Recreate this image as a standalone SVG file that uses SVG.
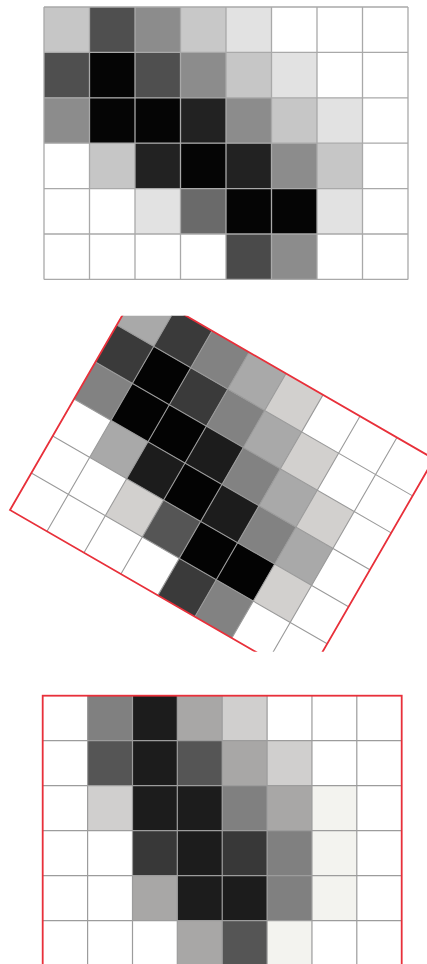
<svg xmlns="http://www.w3.org/2000/svg" width="427" height="964" viewBox="0 0 427 964">
<defs>
<style>
.g1{stroke:#a9a9a9;stroke-width:1.3;fill:none}
.g2{stroke:#9a9a9a;stroke-width:1.1;fill:none}
.g3{stroke:#9c9c9c;stroke-width:1.2;fill:none}
.red{stroke:#e8303a;stroke-width:1.8;fill:none}
</style>
<clipPath id="midClip"><rect x="0" y="315.7" width="427" height="336"/></clipPath>
</defs>
<rect width="427" height="964" fill="#ffffff"/>

<g id="top-grid">
<g stroke="none">
<rect x="44" y="7" width="45.5" height="45.4" fill="#c6c6c6"/>
<rect x="89.5" y="7" width="45.5" height="45.4" fill="#4f4f4f"/>
<rect x="135" y="7" width="45.5" height="45.4" fill="#8c8c8c"/>
<rect x="180.5" y="7" width="45.5" height="45.4" fill="#c8c8c8"/>
<rect x="226" y="7" width="45.5" height="45.4" fill="#e2e2e2"/>

<rect x="44" y="52.4" width="45.5" height="45.4" fill="#4f4f4f"/>
<rect x="89.5" y="52.4" width="45.5" height="45.4" fill="#050505"/>
<rect x="135" y="52.4" width="45.5" height="45.4" fill="#4f4f4f"/>
<rect x="180.5" y="52.4" width="45.5" height="45.4" fill="#8c8c8c"/>
<rect x="226" y="52.4" width="45.5" height="45.4" fill="#c6c6c6"/>
<rect x="271.5" y="52.4" width="45.5" height="45.4" fill="#e2e2e2"/>

<rect x="44" y="97.8" width="45.5" height="45.4" fill="#8c8c8c"/>
<rect x="89.5" y="97.8" width="45.5" height="45.4" fill="#050505"/>
<rect x="135" y="97.8" width="45.5" height="45.4" fill="#050505"/>
<rect x="180.5" y="97.8" width="45.5" height="45.4" fill="#222222"/>
<rect x="226" y="97.8" width="45.5" height="45.4" fill="#8c8c8c"/>
<rect x="271.5" y="97.8" width="45.5" height="45.4" fill="#c6c6c6"/>
<rect x="317" y="97.8" width="45.5" height="45.4" fill="#e2e2e2"/>

<rect x="89.5" y="143.2" width="45.5" height="45.4" fill="#c6c6c6"/>
<rect x="135" y="143.2" width="45.5" height="45.4" fill="#222222"/>
<rect x="180.5" y="143.2" width="45.5" height="45.4" fill="#050505"/>
<rect x="226" y="143.2" width="45.5" height="45.4" fill="#222222"/>
<rect x="271.5" y="143.2" width="45.5" height="45.4" fill="#8c8c8c"/>
<rect x="317" y="143.2" width="45.5" height="45.4" fill="#c6c6c6"/>

<rect x="135" y="188.6" width="45.5" height="45.4" fill="#e2e2e2"/>
<rect x="180.5" y="188.6" width="45.5" height="45.4" fill="#6a6a6a"/>
<rect x="226" y="188.6" width="45.5" height="45.4" fill="#050505"/>
<rect x="271.5" y="188.6" width="45.5" height="45.4" fill="#050505"/>
<rect x="317" y="188.6" width="45.5" height="45.4" fill="#e2e2e2"/>

<rect x="226" y="234" width="45.5" height="45.4" fill="#4a4a4a"/>
<rect x="271.5" y="234" width="45.5" height="45.4" fill="#8c8c8c"/>
</g>
<path class="g1" d="M44 7V279.4M89.5 7V279.4M135 7V279.4M180.5 7V279.4M226 7V279.4M271.5 7V279.4M317 7V279.4M362.5 7V279.4M408 7V279.4M44 7H408M44 52.4H408M44 97.8H408M44 143.2H408M44 188.6H408M44 234H408M44 279.4H408"/>
</g>

<g id="rotated-grid" clip-path="url(#midClip)">
<g transform="translate(138.1,288.1) rotate(30)">
<g stroke="none">
<rect x="0" y="0" width="42.7" height="42.7" fill="#a9a9a9"/>
<rect x="42.7" y="0" width="42.7" height="42.7" fill="#3a3a3a"/>
<rect x="85.4" y="0" width="42.7" height="42.7" fill="#828282"/>
<rect x="128.1" y="0" width="42.7" height="42.7" fill="#a9a9a9"/>
<rect x="170.8" y="0" width="42.7" height="42.7" fill="#d2d0ce"/>

<rect x="0" y="42.7" width="42.7" height="42.7" fill="#3a3a3a"/>
<rect x="42.7" y="42.7" width="42.7" height="42.7" fill="#030303"/>
<rect x="85.4" y="42.7" width="42.7" height="42.7" fill="#3a3a3a"/>
<rect x="128.1" y="42.7" width="42.7" height="42.7" fill="#828282"/>
<rect x="170.8" y="42.7" width="42.7" height="42.7" fill="#a9a9a9"/>
<rect x="213.5" y="42.7" width="42.7" height="42.7" fill="#d2d0ce"/>

<rect x="0" y="85.4" width="42.7" height="42.7" fill="#828282"/>
<rect x="42.7" y="85.4" width="42.7" height="42.7" fill="#030303"/>
<rect x="85.4" y="85.4" width="42.7" height="42.7" fill="#030303"/>
<rect x="128.1" y="85.4" width="42.7" height="42.7" fill="#1c1c1c"/>
<rect x="170.8" y="85.4" width="42.7" height="42.7" fill="#828282"/>
<rect x="213.5" y="85.4" width="42.7" height="42.7" fill="#a9a9a9"/>
<rect x="256.2" y="85.4" width="42.7" height="42.7" fill="#d2d0ce"/>

<rect x="42.7" y="128.1" width="42.7" height="42.7" fill="#a9a9a9"/>
<rect x="85.4" y="128.1" width="42.7" height="42.7" fill="#1c1c1c"/>
<rect x="128.1" y="128.1" width="42.7" height="42.7" fill="#030303"/>
<rect x="170.8" y="128.1" width="42.7" height="42.7" fill="#1c1c1c"/>
<rect x="213.5" y="128.1" width="42.7" height="42.7" fill="#828282"/>
<rect x="256.2" y="128.1" width="42.7" height="42.7" fill="#a9a9a9"/>

<rect x="85.4" y="170.8" width="42.7" height="42.7" fill="#d2d0ce"/>
<rect x="128.1" y="170.8" width="42.7" height="42.7" fill="#555555"/>
<rect x="170.8" y="170.8" width="42.7" height="42.7" fill="#030303"/>
<rect x="213.5" y="170.8" width="42.7" height="42.7" fill="#030303"/>
<rect x="256.2" y="170.8" width="42.7" height="42.7" fill="#d2d0ce"/>

<rect x="170.8" y="213.5" width="42.7" height="42.7" fill="#3a3a3a"/>
<rect x="213.5" y="213.5" width="42.7" height="42.7" fill="#828282"/>
</g>
<path class="g2" d="M42.7 0V256.2M85.4 0V256.2M128.1 0V256.2M170.8 0V256.2M213.5 0V256.2M256.2 0V256.2M298.9 0V256.2M0 42.7H341.6M0 85.4H341.6M0 128.1H341.6M0 170.8H341.6M0 213.5H341.6"/>
<rect class="red" x="0" y="0" width="341.6" height="256.2"/>
</g>
</g>

<g id="bottom-grid">
<g stroke="none">
<rect x="87.6" y="695.7" width="44.9" height="45" fill="#808080"/>
<rect x="132.5" y="695.7" width="44.9" height="45" fill="#1c1c1c"/>
<rect x="177.3" y="695.7" width="44.9" height="45" fill="#a8a7a6"/>
<rect x="222.2" y="695.7" width="44.9" height="45" fill="#d0cfce"/>

<rect x="87.6" y="740.7" width="44.9" height="45" fill="#555555"/>
<rect x="132.5" y="740.7" width="44.9" height="45" fill="#1c1c1c"/>
<rect x="177.3" y="740.7" width="44.9" height="45" fill="#555555"/>
<rect x="222.2" y="740.7" width="44.9" height="45" fill="#a8a7a6"/>
<rect x="267.1" y="740.7" width="44.9" height="45" fill="#d0cfce"/>

<rect x="87.6" y="785.7" width="44.9" height="45" fill="#d0cfce"/>
<rect x="132.5" y="785.7" width="44.9" height="45" fill="#1c1c1c"/>
<rect x="177.3" y="785.7" width="44.9" height="45" fill="#1c1c1c"/>
<rect x="222.2" y="785.7" width="44.9" height="45" fill="#808080"/>
<rect x="267.1" y="785.7" width="44.9" height="45" fill="#a8a7a6"/>
<rect x="311.95" y="785.7" width="44.9" height="45" fill="#f3f3ef"/>

<rect x="132.5" y="830.7" width="44.9" height="45" fill="#383838"/>
<rect x="177.3" y="830.7" width="44.9" height="45" fill="#1c1c1c"/>
<rect x="222.2" y="830.7" width="44.9" height="45" fill="#383838"/>
<rect x="267.1" y="830.7" width="44.9" height="45" fill="#808080"/>
<rect x="311.95" y="830.7" width="44.9" height="45" fill="#f3f3ef"/>

<rect x="132.5" y="875.7" width="44.9" height="45" fill="#a8a7a6"/>
<rect x="177.3" y="875.7" width="44.9" height="45" fill="#1c1c1c"/>
<rect x="222.2" y="875.7" width="44.9" height="45" fill="#1c1c1c"/>
<rect x="267.1" y="875.7" width="44.9" height="45" fill="#808080"/>
<rect x="311.95" y="875.7" width="44.9" height="45" fill="#f3f3ef"/>

<rect x="177.3" y="920.7" width="44.9" height="45" fill="#a8a7a6"/>
<rect x="222.2" y="920.7" width="44.9" height="45" fill="#555555"/>
<rect x="267.1" y="920.7" width="44.9" height="45" fill="#f3f3ef"/>
</g>
<path class="g3" d="M87.6 695.7V966M132.5 695.7V966M177.3 695.7V966M222.2 695.7V966M267.1 695.7V966M311.95 695.7V966M356.8 695.7V966M42.7 740.7H401.7M42.7 785.7H401.7M42.7 830.7H401.7M42.7 875.7H401.7M42.7 920.7H401.7"/>
<rect class="red" x="42.7" y="695.7" width="359" height="270"/>
</g>
</svg>
